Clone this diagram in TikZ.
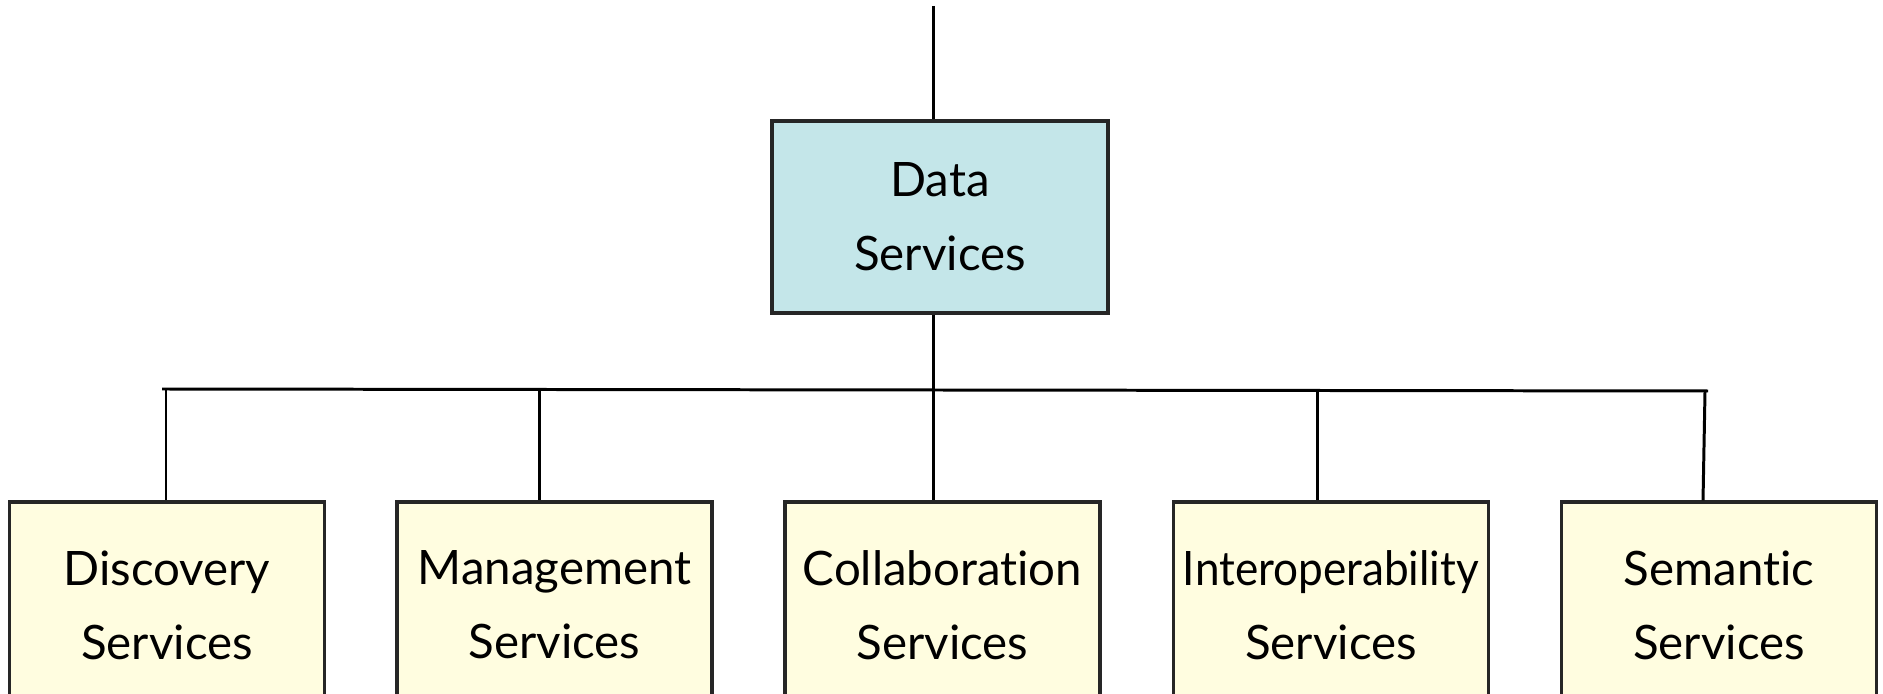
\documentclass[tikz,border=0pt]{standalone}
\usepackage{fontspec}
\setmainfont{Lato}[Ligatures={NoCommon,NoRequired}]
\usetikzlibrary{calc}

\definecolor{dataFill}{RGB}{196,230,233}
\definecolor{leafFill}{RGB}{255,253,224}

\begin{document}
\begin{tikzpicture}[
    line width=0.85pt,
    box/.style={draw=black!85, line width=0.9pt, align=center,
      font=\fontsize{13.5}{21}\selectfont, inner sep=0pt},
    rootbox/.style={box, fill=dataFill, minimum width=3.36cm, minimum height=1.92cm},
    leafbox/.style={box, fill=leafFill, minimum width=3.15cm, minimum height=2.06cm}]
  \useasboundingbox (0,0) rectangle (18.83,6.93);
  \clip (0,0) rectangle (18.83,6.93);

  % root of the tree
  \coordinate (feed) at (9.33,6.87);
  \node[rootbox] (data) at (9.40,4.76) {Data\\Services};

  % the five service groups
  \node[leafbox] (disc)    at (1.67,0.88)  {Discovery\\Services};
  \node[leafbox] (mgmt)    at (5.545,0.88) {Management\\Services};
  \node[leafbox] (collab)  at (9.425,0.88) {Collaboration\\Services};
  \node[leafbox] (interop) at (13.31,0.88) {\scalebox{0.93}[1]{Interoperability}\\Services};
  \node[leafbox] (sem)     at (17.19,0.88) {Semantic\\Services};

  % bus line and taps
  \coordinate (busL) at (1.62,3.04);
  \coordinate (busR) at (17.08,3.02);
  \coordinate (tapD) at (1.66,3.04);
  \coordinate (tapM) at (5.39,3.04);
  \coordinate (tapC) at (9.33,3.03);
  \coordinate (tapI) at (13.17,3.03);
  \coordinate (tapS) at (17.05,3.02);

  \draw (feed) -- (feed |- data.north);
  \draw (data.south -| feed) -- (tapC);
  \draw (busL) -- (busR);
  \draw (tapD) -- (tapD |- disc.north);
  \draw (tapM) -- (tapM |- mgmt.north);
  \draw (tapC) -- (tapC |- collab.north);
  \draw (tapI) -- (tapI |- interop.north);
  \draw (tapS) -- (17.03,0 |- sem.north);
\end{tikzpicture}
\end{document}
